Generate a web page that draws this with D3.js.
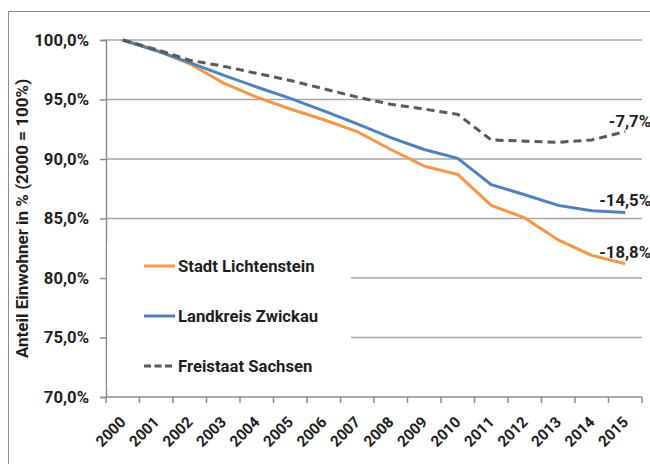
<!DOCTYPE html>
<html>
<head>
<meta charset="utf-8">
<script src="https://cdn.jsdelivr.net/npm/d3@7"></script>
<style>
  body { margin: 0; background: #fff; }
  svg text { font-family: Roboto, "Open Sans", sans-serif; font-weight: bold; fill: #1f1f1f; }
</style>
</head>
<body>
<div id="main"></div>
<script>
// data
const years = ["2000","2001","2002","2003","2004","2005","2006","2007","2008","2009","2010","2011","2012","2013","2014","2015"];
const lichtenstein = [100, 99.15, 98.0, 96.4, 95.2, 94.2, 93.3, 92.3, 90.8, 89.4, 88.7, 86.1, 85.05, 83.2, 81.9, 81.2];
const zwickau = [100, 99.1, 98.1, 97.05, 96.05, 95.1, 94.05, 92.95, 91.8, 90.8, 90.05, 87.85, 87.0, 86.1, 85.65, 85.5];
const sachsen = [100, 99.2, 98.3, 97.8, 97.2, 96.6, 95.9, 95.2, 94.6, 94.2, 93.75, 91.6, 91.5, 91.4, 91.6, 92.3];
const endLabels = ["-18,8%", "-14,5%", "-7,7%"];
const yTicks = [70, 75, 80, 85, 90, 95, 100];
const seriesNames = ["Stadt Lichtenstein", "Landkreis Zwickau", "Freistaat Sachsen"];

const w = 650, h = 464;
const padL = 106, padR = 642, padT = 40, padB = 397;

const svg = d3.select("#main").append("svg").attr("width", w).attr("height", h);

// outer frame (cut off at right and bottom)
svg.append("rect").attr("x", 8.5).attr("y", 11.5).attr("width", 700).attr("height", 500)
  .attr("fill", "none").attr("stroke", "#8c8c8c").attr("stroke-width", 1);

const xScale = d3.scaleBand().domain(years).range([padL, padR]);
const yScale = d3.scaleLinear().domain([70, 100]).range([padB, padT]);
const fmt = d => d3.format(".1f")(d).replace(".", ",") + "%";

// gridlines
svg.append("g").selectAll("line").data(yTicks.filter(d => d > 70)).enter().append("line")
  .attr("x1", padL).attr("x2", padR)
  .attr("y1", d => yScale(d)).attr("y2", d => yScale(d))
  .attr("stroke", "#a6a6a6").attr("stroke-width", 1.5);

// y axis
const yAxis = d3.axisLeft(yScale).tickValues(yTicks).tickFormat(fmt).tickSize(6).tickPadding(11);
const gy = svg.append("g").attr("transform", "translate(" + padL + ",0)").call(yAxis);
gy.select(".domain").attr("stroke", "#8c8c8c").attr("stroke-width", 1.5);
gy.selectAll(".tick line").attr("stroke", "#8c8c8c").attr("stroke-width", 1.5);
gy.selectAll("text").style("font-size", "16.7px").attr("fill", "#1f1f1f")
  .style("font-family", "Roboto, sans-serif").style("font-weight", "bold");

// x axis with ticks between categories
svg.append("line").attr("x1", padL).attr("x2", padR).attr("y1", padB).attr("y2", padB)
  .attr("stroke", "#8c8c8c").attr("stroke-width", 1.5);
const bounds = years.map(d => xScale(d)).concat([padR]);
svg.append("g").selectAll("line").data(bounds).enter().append("line")
  .attr("x1", d => d).attr("x2", d => d).attr("y1", padB).attr("y2", padB + 6)
  .attr("stroke", "#8c8c8c").attr("stroke-width", 1.5);
svg.append("g").selectAll("text").data(years).enter().append("text")
  .attr("transform", d => "translate(" + (xScale(d) + xScale.bandwidth() / 2 + 4) + "," + (padB + 26) + ") rotate(-45)")
  .attr("text-anchor", "end")
  .style("font-size", "15.3px")
  .text(d => d);

// y axis title
svg.append("text")
  .attr("transform", "translate(28," + ((padT + padB) / 2) + ") rotate(-90)")
  .attr("text-anchor", "middle")
  .style("font-size", "17px")
  .text("Anteil Einwohner in % (2000 = 100%)");

// lines
const cx = (d, i) => xScale(years[i]) + xScale.bandwidth() / 2;
const line = d3.line().x(cx).y(d => yScale(d));
const allSeries = [lichtenstein, zwickau, sachsen];
const colors = ["#f79646", "#4f81bd", "#595959"];
const dashes = [null, null, "8,5"];

// legend box hides gridlines under it
svg.append("rect").attr("x", padL + 1).attr("y", 242).attr("width", 244).attr("height", 146).attr("fill", "#fff");

allSeries.forEach((s, k) => {
  svg.append("path").datum(s)
    .attr("d", line)
    .attr("fill", "none")
    .attr("stroke", colors[k])
    .attr("stroke-width", 3)
    .attr("stroke-dasharray", dashes[k]);
});

// end labels
const labelY = [252, 200, 121];
allSeries.forEach((s, k) => {
  svg.append("text")
    .attr("x", 651).attr("y", labelY[k])
    .attr("text-anchor", "end")
    .attr("dy", "0.35em")
    .style("font-size", "16.7px")
    .text(endLabels[k]);
});

// legend
const legY = [266, 316, 366];
seriesNames.forEach((n, k) => {
  svg.append("line").attr("x1", 144).attr("x2", 175).attr("y1", legY[k]).attr("y2", legY[k])
    .attr("stroke", colors[k]).attr("stroke-width", 3).attr("stroke-dasharray", dashes[k] ? "7,3.5" : null);
  svg.append("text").attr("x", 178).attr("y", legY[k]).attr("dy", "0.35em")
    .style("font-size", "16.7px").text(n);
});
</script>
</body>
</html>
